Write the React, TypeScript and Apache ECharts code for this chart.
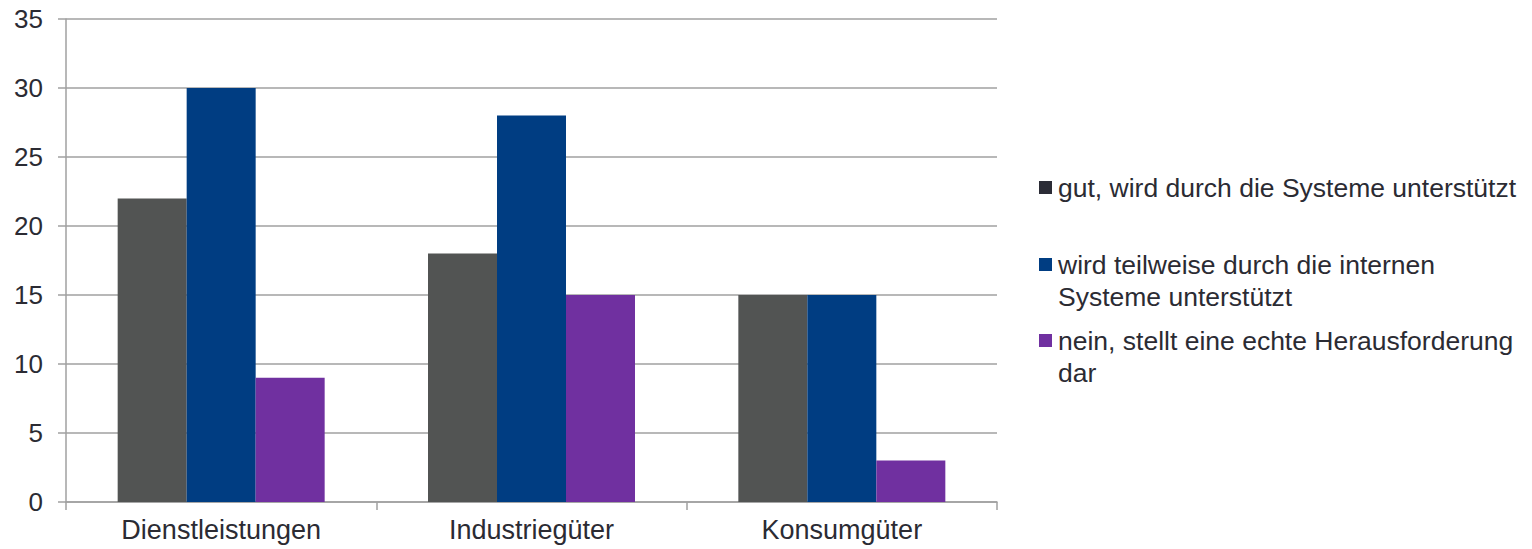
import React, { useEffect, useRef } from "react";
import * as echarts from "echarts";

const categories = ["Dienstleistungen", "Industriegüter", "Konsumgüter"];
const seriesNames = [
  "gut, wird durch die Systeme unterstützt",
  "wird teilweise durch die internen\nSysteme unterstützt",
  "nein, stellt eine echte Herausforderung\ndar",
];
const gutValues = [22, 18, 15];
const teilweiseValues = [30, 28, 15];
const neinValues = [9, 15, 3];
const barColors = ["#525453", "#003d82", "#7030a0"];
const swatchColors = ["#2b2c36", "#003d82", "#7030a0"];
const yTicks = [0, 5, 10, 15, 20, 25, 30, 35];

const FONT = "'Liberation Sans', Arial, sans-serif";
const TEXT = "#2b2b33";
const LINE = "#a0a0a0";

export default function App() {
  const ref = useRef<HTMLDivElement>(null);

  useEffect(() => {
    if (!ref.current) return;
    const chart = echarts.init(ref.current, undefined, { renderer: "svg" });
    const values = [gutValues, teilweiseValues, neinValues];

    // legend drawn as swatch + text, the swatch aligned with the first text line
    const legendTops = [188, 265, 341];
    const legendGraphics: any[] = [];
    seriesNames.forEach((name, i) => {
      legendGraphics.push({
        type: "rect",
        left: 1039,
        top: legendTops[i] - 7,
        shape: { width: 13, height: 13 },
        style: { fill: swatchColors[i] },
      });
      legendGraphics.push({
        type: "text",
        left: 1058,
        top: legendTops[i] - 16,
        style: {
          text: name,
          font: `26.5px ${FONT}`,
          fill: TEXT,
          lineHeight: 32,
        },
      });
    });

    chart.setOption({
      animation: false,
      grid: { left: 66, right: 535, top: 19, bottom: 47 },
      xAxis: {
        type: "category",
        data: categories,
        axisLine: { show: true, lineStyle: { color: LINE, width: 1.5 } },
        axisTick: { show: true, length: 8, alignWithLabel: false, interval: 0, lineStyle: { color: LINE, width: 1.5 } },
        axisLabel: { fontFamily: FONT, fontSize: 27, color: TEXT, margin: 14, interval: 0 },
        splitLine: { show: false },
      },
      yAxis: {
        type: "value",
        min: yTicks[0],
        max: yTicks[yTicks.length - 1],
        interval: yTicks[1] - yTicks[0],
        axisLine: { show: true, lineStyle: { color: LINE, width: 1.5 } },
        axisTick: { show: true, length: 8, lineStyle: { color: LINE, width: 1.5 } },
        axisLabel: { fontFamily: FONT, fontSize: 26, color: TEXT, margin: 23 },
        splitLine: { show: true, lineStyle: { color: LINE, width: 1.5 } },
      },
      series: seriesNames.map((name, i) => ({
        type: "bar",
        name,
        data: values[i],
        itemStyle: { color: barColors[i] },
        barGap: "0%",
        barCategoryGap: "33.3%",
      })),
      graphic: legendGraphics,
    });

    return () => chart.dispose();
  }, []);

  return (
    <div
      ref={ref}
      style={{ position: "fixed", left: 0, top: 0, width: 1532, height: 549, background: "#fff" }}
    />
  );
}
